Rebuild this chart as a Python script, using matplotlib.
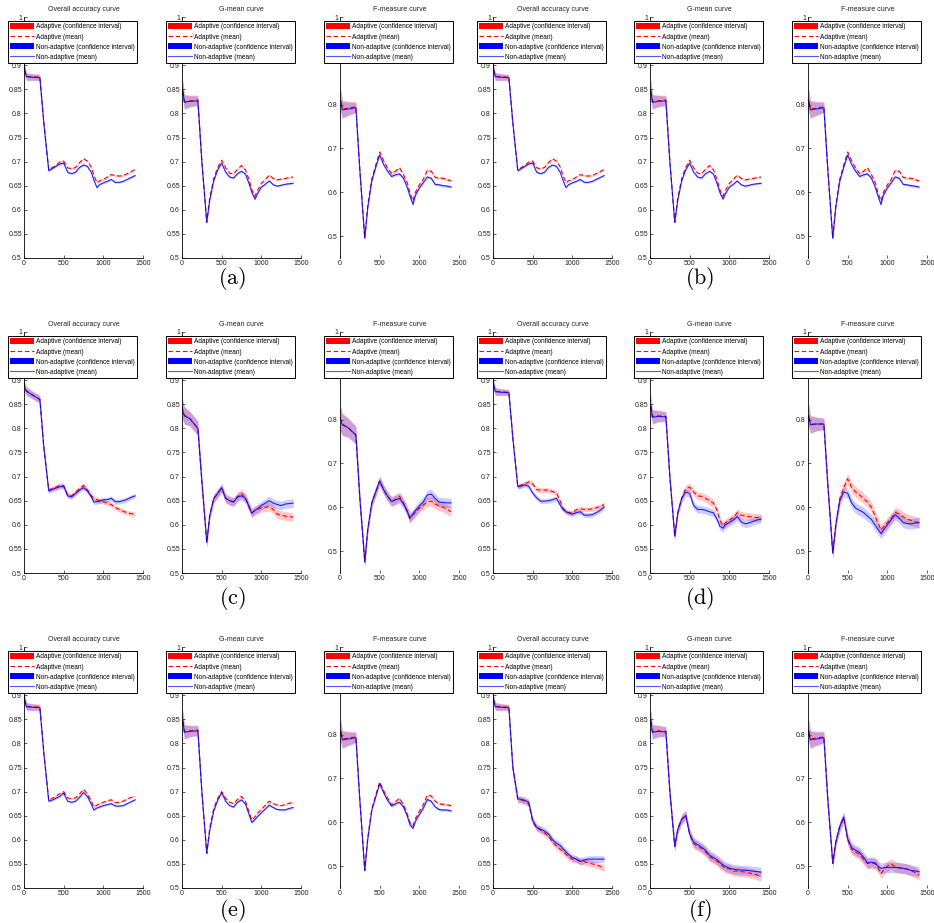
import matplotlib
matplotlib.use('Agg')
import matplotlib.pyplot as plt
from matplotlib.patches import Patch
from matplotlib.lines import Line2D

plt.rcParams['font.family'] = ['Liberation Sans', 'DejaVu Sans']
plt.rcParams['mathtext.fontset'] = 'cm'

# x positions (time steps) shared by every curve
steps = [0, 10, 30, 100, 200, 250, 312, 350, 400, 450, 500, 550, 600, 650, 700,
         750, 800, 850, 880, 920, 950, 1000, 1050, 1100, 1150, 1200, 1250, 1300, 1350, 1400]

titles = ['Overall accuracy curve', 'G-mean curve', 'F-measure curve']
labels = ['Adaptive (confidence interval)', 'Adaptive (mean)',
          'Non-adaptive (confidence interval)', 'Non-adaptive (mean)']
panel_tags = ['(a)', '(b)', '(c)', '(d)', '(e)', '(f)']

# ---- (a) ----
acc_a_adp = [0.905, 0.89, 0.877, 0.876, 0.875, 0.78, 0.683, 0.687, 0.692, 0.699, 0.701, 0.687, 0.685, 0.688, 0.698,
             0.706, 0.701, 0.688, 0.672, 0.656, 0.66, 0.663, 0.668, 0.673, 0.671, 0.670, 0.671, 0.675, 0.679, 0.684]
acc_a_non = [0.905, 0.888, 0.876, 0.875, 0.874, 0.78, 0.681, 0.685, 0.69, 0.695, 0.697, 0.678, 0.675, 0.678, 0.688,
             0.693, 0.69, 0.677, 0.662, 0.646, 0.652, 0.656, 0.659, 0.663, 0.657, 0.657, 0.659, 0.663, 0.667, 0.671]
acc_a_ci = [0.012, 0.010, 0.008, 0.007, 0.006, 0.003] + [0.002] * 24
gm_a_adp = [0.84, 0.85, 0.825, 0.826, 0.828, 0.70, 0.574, 0.625, 0.665, 0.688, 0.703, 0.687, 0.676, 0.675, 0.684,
            0.692, 0.683, 0.66, 0.642, 0.628, 0.64, 0.655, 0.663, 0.672, 0.665, 0.662, 0.664, 0.665, 0.667, 0.668]
gm_a_non = [0.84, 0.848, 0.823, 0.825, 0.826, 0.70, 0.574, 0.62, 0.66, 0.683, 0.697, 0.678, 0.668, 0.666, 0.675,
            0.68, 0.674, 0.652, 0.636, 0.622, 0.633, 0.647, 0.653, 0.66, 0.652, 0.649, 0.651, 0.653, 0.654, 0.655]
gm_a_ci = [0.025, 0.02, 0.015, 0.012, 0.01, 0.004] + [0.002] * 24
fm_a_adp = [0.8, 0.81, 0.79, 0.792, 0.795, 0.65, 0.495, 0.57, 0.63, 0.662, 0.692, 0.672, 0.655, 0.643, 0.648,
            0.656, 0.64, 0.62, 0.6, 0.58, 0.6, 0.617, 0.63, 0.65, 0.648, 0.634, 0.632, 0.632, 0.629, 0.626]
fm_a_non = [0.8, 0.808, 0.788, 0.79, 0.793, 0.65, 0.495, 0.565, 0.625, 0.657, 0.685, 0.663, 0.648, 0.636, 0.64,
            0.642, 0.632, 0.61, 0.592, 0.572, 0.593, 0.61, 0.622, 0.635, 0.632, 0.618, 0.617, 0.615, 0.614, 0.612]
fm_a_ci = [0.03, 0.025, 0.02, 0.016, 0.012, 0.005] + [0.003] * 24

# ---- (b) reads the same as (a) ----
acc_b_adp, acc_b_non, acc_b_ci = acc_a_adp, acc_a_non, acc_a_ci
gm_b_adp, gm_b_non, gm_b_ci = gm_a_adp, gm_a_non, gm_a_ci
fm_b_adp, fm_b_non, fm_b_ci = fm_a_adp, fm_a_non, fm_a_ci

# ---- (c) ----
acc_c_adp = [0.895, 0.885, 0.878, 0.87, 0.86, 0.76, 0.672, 0.675, 0.678, 0.682, 0.681, 0.662, 0.66, 0.668, 0.675,
             0.682, 0.672, 0.66, 0.655, 0.652, 0.65, 0.648, 0.645, 0.642, 0.636, 0.632, 0.628, 0.625, 0.623, 0.622]
acc_c_non = [0.895, 0.883, 0.877, 0.87, 0.86, 0.76, 0.67, 0.673, 0.676, 0.679, 0.68, 0.66, 0.658, 0.665, 0.672,
             0.677, 0.67, 0.658, 0.647, 0.648, 0.649, 0.652, 0.652, 0.655, 0.648, 0.648, 0.65, 0.653, 0.657, 0.66]
acc_c_ci = [0.012, 0.010, 0.009, 0.008, 0.008, 0.006] + [0.005] * 24
gm_c_adp = [0.845, 0.838, 0.828, 0.82, 0.80, 0.69, 0.563, 0.62, 0.655, 0.665, 0.676, 0.655, 0.65, 0.648, 0.658,
            0.665, 0.655, 0.635, 0.625, 0.63, 0.632, 0.635, 0.636, 0.638, 0.632, 0.622, 0.62, 0.618, 0.617, 0.616]
gm_c_non = [0.845, 0.836, 0.826, 0.82, 0.80, 0.69, 0.563, 0.62, 0.654, 0.665, 0.677, 0.655, 0.65, 0.647, 0.658,
            0.66, 0.655, 0.636, 0.624, 0.63, 0.633, 0.64, 0.645, 0.65, 0.645, 0.642, 0.64, 0.643, 0.644, 0.645]
gm_c_ci = [0.025, 0.02, 0.018, 0.015, 0.015, 0.012, 0.01] + [0.009] * 23
fm_c_adp = [0.805, 0.8, 0.79, 0.782, 0.765, 0.62, 0.475, 0.55, 0.61, 0.635, 0.66, 0.64, 0.625, 0.613, 0.618,
            0.625, 0.61, 0.59, 0.575, 0.583, 0.588, 0.598, 0.605, 0.612, 0.614, 0.607, 0.603, 0.6, 0.595, 0.59]
fm_c_non = [0.805, 0.798, 0.788, 0.782, 0.765, 0.62, 0.475, 0.55, 0.61, 0.635, 0.66, 0.64, 0.625, 0.613, 0.617,
            0.62, 0.608, 0.59, 0.575, 0.585, 0.592, 0.603, 0.612, 0.628, 0.63, 0.62, 0.612, 0.611, 0.61, 0.61]
fm_c_ci = [0.03, 0.028, 0.025, 0.022, 0.02, 0.015, 0.012] + [0.011] * 23

# ---- (d) ----
acc_d_adp = [0.905, 0.89, 0.877, 0.876, 0.875, 0.78, 0.68, 0.682, 0.685, 0.689, 0.685, 0.673, 0.672, 0.672, 0.672,
             0.669, 0.666, 0.648, 0.635, 0.628, 0.625, 0.625, 0.631, 0.633, 0.632, 0.632, 0.633, 0.635, 0.638, 0.642]
acc_d_non = [0.905, 0.888, 0.876, 0.875, 0.874, 0.78, 0.679, 0.68, 0.683, 0.68, 0.666, 0.656, 0.649, 0.649, 0.65,
             0.652, 0.655, 0.64, 0.632, 0.627, 0.625, 0.622, 0.625, 0.627, 0.62, 0.62, 0.621, 0.625, 0.63, 0.637]
acc_d_ci = [0.012, 0.010, 0.008, 0.007, 0.006, 0.005] + [0.005] * 24
gm_d_adp = [0.84, 0.85, 0.825, 0.826, 0.825, 0.70, 0.576, 0.625, 0.656, 0.675, 0.678, 0.668, 0.66, 0.659, 0.655,
            0.65, 0.645, 0.628, 0.61, 0.598, 0.604, 0.61, 0.615, 0.625, 0.62, 0.618, 0.617, 0.616, 0.615, 0.615]
gm_d_non = [0.84, 0.848, 0.823, 0.825, 0.824, 0.70, 0.576, 0.625, 0.655, 0.668, 0.665, 0.64, 0.632, 0.632, 0.63,
            0.627, 0.625, 0.61, 0.597, 0.593, 0.6, 0.605, 0.61, 0.617, 0.606, 0.602, 0.604, 0.607, 0.61, 0.612]
gm_d_ci = [0.025, 0.02, 0.015, 0.012, 0.01, 0.008] + [0.008] * 24
fm_d_adp = [0.8, 0.81, 0.79, 0.79, 0.79, 0.65, 0.495, 0.56, 0.62, 0.645, 0.665, 0.645, 0.635, 0.628, 0.62,
            0.612, 0.6, 0.578, 0.565, 0.548, 0.555, 0.565, 0.575, 0.588, 0.585, 0.578, 0.573, 0.57, 0.567, 0.565]
fm_d_non = [0.8, 0.808, 0.788, 0.79, 0.79, 0.65, 0.495, 0.56, 0.615, 0.635, 0.632, 0.61, 0.598, 0.593, 0.588,
            0.58, 0.572, 0.558, 0.55, 0.54, 0.548, 0.56, 0.572, 0.583, 0.575, 0.565, 0.563, 0.562, 0.564, 0.565]
fm_d_ci = [0.03, 0.025, 0.02, 0.016, 0.013, 0.012] + [0.012] * 24

# ---- (e) ----
acc_e_adp = [0.905, 0.89, 0.877, 0.876, 0.875, 0.78, 0.682, 0.686, 0.69, 0.696, 0.7, 0.687, 0.685, 0.687, 0.695,
             0.705, 0.695, 0.68, 0.668, 0.672, 0.675, 0.678, 0.681, 0.683, 0.677, 0.678, 0.68, 0.685, 0.688, 0.69]
acc_e_non = [0.905, 0.888, 0.876, 0.875, 0.874, 0.78, 0.68, 0.682, 0.686, 0.69, 0.697, 0.68, 0.678, 0.68, 0.688,
             0.698, 0.69, 0.673, 0.662, 0.666, 0.668, 0.671, 0.673, 0.675, 0.67, 0.67, 0.671, 0.675, 0.679, 0.683]
acc_e_ci = [0.012, 0.010, 0.008, 0.007, 0.006, 0.003] + [0.002] * 24
gm_e_adp = [0.84, 0.85, 0.825, 0.826, 0.828, 0.70, 0.572, 0.625, 0.665, 0.686, 0.7, 0.686, 0.678, 0.675, 0.684,
            0.69, 0.68, 0.655, 0.641, 0.648, 0.655, 0.663, 0.672, 0.68, 0.675, 0.672, 0.671, 0.673, 0.676, 0.677]
gm_e_non = [0.84, 0.848, 0.823, 0.825, 0.826, 0.70, 0.572, 0.62, 0.66, 0.682, 0.698, 0.68, 0.671, 0.668, 0.678,
            0.683, 0.674, 0.65, 0.636, 0.642, 0.648, 0.656, 0.664, 0.672, 0.667, 0.663, 0.662, 0.662, 0.665, 0.667]
gm_e_ci = [0.025, 0.02, 0.015, 0.012, 0.01, 0.004] + [0.002] * 24
fm_e_adp = [0.8, 0.81, 0.79, 0.792, 0.795, 0.65, 0.49, 0.565, 0.63, 0.662, 0.692, 0.672, 0.655, 0.64, 0.647,
            0.655, 0.64, 0.618, 0.6, 0.592, 0.608, 0.625, 0.64, 0.662, 0.66, 0.648, 0.642, 0.641, 0.64, 0.638]
fm_e_non = [0.8, 0.808, 0.788, 0.79, 0.793, 0.65, 0.49, 0.562, 0.627, 0.658, 0.688, 0.667, 0.65, 0.637, 0.642,
            0.646, 0.635, 0.613, 0.595, 0.586, 0.602, 0.618, 0.632, 0.652, 0.648, 0.635, 0.629, 0.628, 0.628, 0.626]
fm_e_ci = [0.03, 0.025, 0.02, 0.016, 0.012, 0.005] + [0.003] * 24

# ---- (f) ----
acc_f_adp = [0.905, 0.89, 0.877, 0.876, 0.875, 0.75, 0.684, 0.683, 0.68, 0.675, 0.638, 0.625, 0.62, 0.614, 0.607,
             0.596, 0.587, 0.58, 0.576, 0.57, 0.565, 0.56, 0.559, 0.556, 0.555, 0.552, 0.55, 0.548, 0.545, 0.541]
acc_f_non = [0.905, 0.888, 0.876, 0.875, 0.874, 0.75, 0.685, 0.684, 0.682, 0.678, 0.64, 0.626, 0.622, 0.618, 0.612,
             0.6, 0.593, 0.588, 0.582, 0.575, 0.57, 0.563, 0.56, 0.555, 0.558, 0.56, 0.56, 0.56, 0.56, 0.56]
acc_f_ci = [0.012, 0.010, 0.008, 0.007, 0.006, 0.006] + [0.007] * 24
gm_f_adp = [0.84, 0.85, 0.825, 0.826, 0.825, 0.70, 0.586, 0.622, 0.643, 0.652, 0.612, 0.592, 0.587, 0.582, 0.575,
            0.565, 0.56, 0.555, 0.55, 0.545, 0.54, 0.54, 0.535, 0.535, 0.534, 0.533, 0.531, 0.53, 0.527, 0.524]
gm_f_non = [0.84, 0.848, 0.823, 0.825, 0.824, 0.70, 0.586, 0.622, 0.642, 0.65, 0.612, 0.595, 0.59, 0.585, 0.578,
            0.568, 0.563, 0.558, 0.553, 0.548, 0.545, 0.541, 0.539, 0.538, 0.537, 0.537, 0.536, 0.535, 0.534, 0.533]
gm_f_ci = [0.025, 0.02, 0.015, 0.012, 0.01, 0.01] + [0.01] * 24
fm_f_adp = [0.8, 0.81, 0.79, 0.792, 0.795, 0.65, 0.506, 0.555, 0.59, 0.61, 0.56, 0.538, 0.532, 0.527, 0.515,
            0.506, 0.507, 0.505, 0.498, 0.483, 0.49, 0.5, 0.505, 0.498, 0.496, 0.495, 0.493, 0.49, 0.485, 0.48]
fm_f_non = [0.8, 0.808, 0.788, 0.79, 0.793, 0.65, 0.506, 0.555, 0.59, 0.612, 0.562, 0.542, 0.536, 0.531, 0.52,
            0.507, 0.509, 0.507, 0.5, 0.495, 0.496, 0.497, 0.497, 0.497, 0.496, 0.495, 0.493, 0.49, 0.489, 0.487]
fm_f_ci = [0.03, 0.025, 0.02, 0.016, 0.013, 0.012] + [0.012] * 24

groups = [
    [(acc_a_adp, acc_a_non, acc_a_ci), (gm_a_adp, gm_a_non, gm_a_ci), (fm_a_adp, fm_a_non, fm_a_ci)],
    [(acc_b_adp, acc_b_non, acc_b_ci), (gm_b_adp, gm_b_non, gm_b_ci), (fm_b_adp, fm_b_non, fm_b_ci)],
    [(acc_c_adp, acc_c_non, acc_c_ci), (gm_c_adp, gm_c_non, gm_c_ci), (fm_c_adp, fm_c_non, fm_c_ci)],
    [(acc_d_adp, acc_d_non, acc_d_ci), (gm_d_adp, gm_d_non, gm_d_ci), (fm_d_adp, fm_d_non, fm_d_ci)],
    [(acc_e_adp, acc_e_non, acc_e_ci), (gm_e_adp, gm_e_non, gm_e_ci), (fm_e_adp, fm_e_non, fm_e_ci)],
    [(acc_f_adp, acc_f_non, acc_f_ci), (gm_f_adp, gm_f_non, gm_f_ci), (fm_f_adp, fm_f_non, fm_f_ci)],
]

W, H = 934, 923
fig = plt.figure(figsize=(W / 100, H / 100), dpi=100)

col_left = [24, 182, 340, 493, 650, 808]
row_top = [17, 332, 647]
ax_w, ax_h = 119, 241

handles = [Patch(facecolor='red', edgecolor='none'),
           Line2D([], [], color='red', ls='--', lw=0.8, dashes=(4, 2.5)),
           Patch(facecolor='blue', edgecolor='none'),
           Line2D([], [], color='#5555ff', ls='-', lw=0.8)]

for g, panels in enumerate(groups):
    r, half = g // 2, g % 2
    for k, (adp, non, ci) in enumerate(panels):
        x0 = col_left[half * 3 + k]
        y0 = row_top[r]
        ax = fig.add_axes([x0 / W, 1 - (y0 + ax_h) / H, ax_w / W, ax_h / H])
        lo_a = [v - c for v, c in zip(adp, ci)]
        hi_a = [v + c for v, c in zip(adp, ci)]
        lo_n = [v - c for v, c in zip(non, ci)]
        hi_n = [v + c for v, c in zip(non, ci)]
        ax.fill_between(steps, lo_a, hi_a, color='red', alpha=0.22, lw=0)
        ax.fill_between(steps, lo_n, hi_n, color='blue', alpha=0.2, lw=0)
        ax.plot(steps, adp, color='red', ls='--', lw=0.8, dashes=(4, 2.5))
        ax.plot(steps, non, color='blue', ls='-', lw=0.8, alpha=0.85)
        ax.set_xlim(0, 1500)
        ax.set_xticks([0, 500, 1000, 1500])
        if k == 2:
            ax.set_ylim(0.45, 1)
            ax.set_yticks([0.5, 0.6, 0.7, 0.8, 0.9, 1.0])
            ax.set_yticklabels(['0.5', '0.6', '0.7', '0.8', '0.9', '1'])
            ax.spines['bottom'].set_visible(False)
        else:
            ax.set_ylim(0.5, 1)
            ax.set_yticks([0.5, 0.55, 0.6, 0.65, 0.7, 0.75, 0.8, 0.85, 0.9, 0.95, 1.0])
            ax.set_yticklabels(['0.5', '0.55', '0.6', '0.65', '0.7', '0.75', '0.8', '0.85', '0.9', '0.95', '1'])
        ax.spines['top'].set_visible(False)
        ax.spines['right'].set_visible(False)
        for s in ('left', 'bottom'):
            ax.spines[s].set_linewidth(0.6)
        ax.tick_params(direction='in', length=2, width=0.5, labelsize=5, pad=1.5, colors='#222222')
        ax.set_title(titles[k], fontsize=5, pad=4, color='#222222')
        leg = ax.legend(handles, labels, loc='upper left', bbox_to_anchor=(-0.134, 0.983),
                        borderaxespad=0, fontsize=4.7, fancybox=False, edgecolor='black',
                        framealpha=1, handlelength=3.6, handleheight=1.05, labelspacing=0.45,
                        borderpad=0.3, handletextpad=0.35)
        leg.get_frame().set_linewidth(0.7)

    cx = 232 if half == 0 else 700
    cy = [279, 598, 910][r]
    fig.text(cx / W, 1 - cy / H, r'$\mathrm{' + panel_tags[g] + '}$', fontsize=16,
             ha='center', va='center')

fig.savefig('out.png', dpi=100)
